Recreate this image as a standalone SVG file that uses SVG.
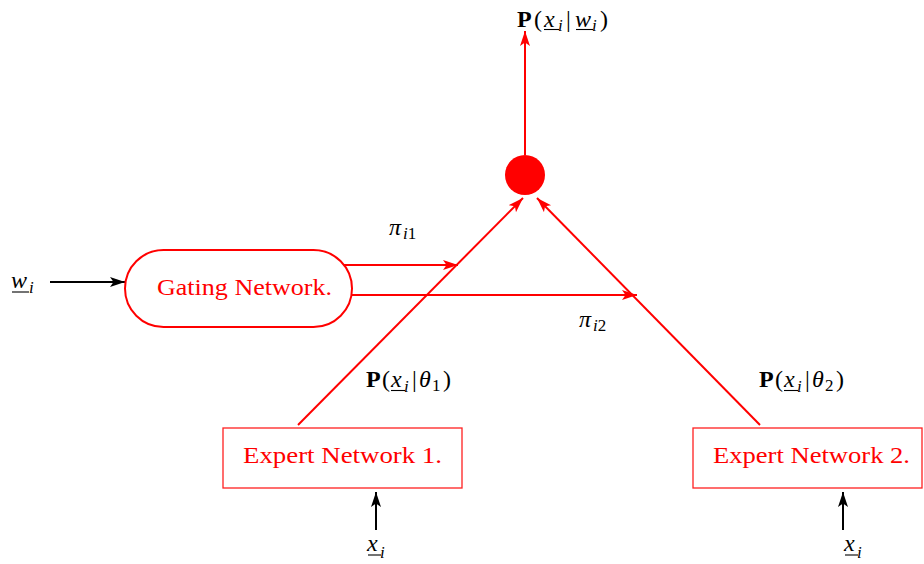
<svg xmlns="http://www.w3.org/2000/svg" width="924" height="564" viewBox="0 0 924 564">
<style>
  .red { stroke: #ff0000; stroke-width: 2; fill: none; }
  .blk { stroke: #000000; stroke-width: 2; fill: none; }
  .box { stroke: #ff2020; stroke-width: 1.3; fill: #ffffff; }
  .lbl { font-family: "Liberation Serif", "Times New Roman", serif; font-size: 24px; fill: #ff0000; }
  .m { font-family: "Liberation Serif", "Times New Roman", serif; font-size: 24px; fill: #000000; }
  .it { font-style: italic; }
  .bf { font-weight: bold; }
  .sub { font-size: 17px; }
  .ul { stroke: #000000; stroke-width: 1.1; }
</style>
<defs>
  <marker id="ar" markerUnits="userSpaceOnUse" markerWidth="16" markerHeight="12" refX="15" refY="5" orient="auto">
    <path d="M0,0 L15,5 L0,10 L3.5,5 Z" fill="#ff0000"/>
  </marker>
  <marker id="ab" markerUnits="userSpaceOnUse" markerWidth="16" markerHeight="12" refX="15" refY="5" orient="auto">
    <path d="M0,0 L15,5 L0,10 L3.5,5 Z" fill="#000000"/>
  </marker>
</defs>

<g id="connectors">
  <line class="red" x1="525" y1="155" x2="525" y2="31" marker-end="url(#ar)"/>
  <line class="red" x1="298" y1="425" x2="523" y2="198" marker-end="url(#ar)"/>
  <line class="red" x1="760" y1="425" x2="537" y2="198" marker-end="url(#ar)"/>
  <line class="red" x1="344" y1="265" x2="458" y2="265" marker-end="url(#ar)"/>
  <line class="red" x1="351" y1="295" x2="637" y2="295" marker-end="url(#ar)"/>
  <line class="blk" x1="50" y1="282" x2="125" y2="282" marker-end="url(#ab)"/>
  <line class="blk" x1="376" y1="530" x2="376" y2="492" marker-end="url(#ab)"/>
  <line class="blk" x1="843" y1="530" x2="843" y2="492" marker-end="url(#ab)"/>
</g>

<g id="combiner">
  <circle cx="525" cy="175" r="20" fill="#ff0000"/>
</g>

<g id="gating">
  <rect x="125" y="250" width="227" height="77" rx="38.5" ry="38.5" fill="#ffffff" stroke="#ff0000" stroke-width="2"/>
  <text class="lbl" x="157" y="295" textLength="175" lengthAdjust="spacingAndGlyphs">Gating Network.</text>
</g>

<g id="expert1">
  <rect class="box" x="223" y="428" width="239" height="60"/>
  <text class="lbl" x="243" y="463" textLength="199" lengthAdjust="spacingAndGlyphs">Expert Network 1.</text>
</g>

<g id="expert2">
  <rect class="box" x="693" y="428" width="229" height="60"/>
  <text class="lbl" x="713" y="463" textLength="197" lengthAdjust="spacingAndGlyphs">Expert Network 2.</text>
</g>

<g id="label-output">
  <text class="m" y="27"><tspan class="bf" x="517">P</tspan><tspan x="534">(</tspan><tspan class="it" x="544">x</tspan><tspan class="it sub" x="558" y="31">i</tspan><tspan x="566" y="27">|</tspan><tspan class="it" x="575">w</tspan><tspan class="it sub" x="592" y="31">i</tspan><tspan x="600" y="27">)</tspan></text>
  <line class="ul" x1="544" y1="29.5" x2="559" y2="29.5"/>
  <line class="ul" x1="576" y1="29.5" x2="593" y2="29.5"/>
</g>

<g id="label-w">
  <text class="m"><tspan class="it" x="11" y="288">w</tspan><tspan class="it sub" x="29" y="293">i</tspan></text>
  <line class="ul" x1="12" y1="292" x2="29" y2="292"/>
</g>

<g id="label-pi1">
  <text class="m"><tspan class="it" x="389" y="235">π</tspan><tspan class="sub" x="403" y="239"><tspan class="it">i</tspan>1</tspan></text>
</g>

<g id="label-pi2">
  <text class="m"><tspan class="it" x="579" y="327">π</tspan><tspan class="sub" x="593" y="331"><tspan class="it">i</tspan>2</tspan></text>
</g>

<g id="label-theta1">
  <text class="m" y="387"><tspan class="bf" x="366">P</tspan><tspan x="382">(</tspan><tspan class="it" x="391">x</tspan><tspan class="it sub" x="404" y="392">i</tspan><tspan x="412" y="387">|</tspan><tspan class="it" x="419">θ</tspan><tspan class="sub" x="432" y="391">1</tspan><tspan x="443" y="387">)</tspan></text>
  <line class="ul" x1="391" y1="390.5" x2="405" y2="390.5"/>
</g>

<g id="label-theta2">
  <text class="m" y="387"><tspan class="bf" x="759">P</tspan><tspan x="775">(</tspan><tspan class="it" x="784">x</tspan><tspan class="it sub" x="797" y="392">i</tspan><tspan x="805" y="387">|</tspan><tspan class="it" x="812">θ</tspan><tspan class="sub" x="825" y="391">2</tspan><tspan x="836" y="387">)</tspan></text>
  <line class="ul" x1="784" y1="390.5" x2="798" y2="390.5"/>
</g>

<g id="label-x1">
  <text class="m"><tspan class="it" x="367" y="551">x</tspan><tspan class="it sub" x="380" y="558">i</tspan></text>
  <line class="ul" x1="368" y1="555" x2="381" y2="555"/>
</g>

<g id="label-x2">
  <text class="m"><tspan class="it" x="844" y="551">x</tspan><tspan class="it sub" x="857" y="558">i</tspan></text>
  <line class="ul" x1="845" y1="555" x2="858" y2="555"/>
</g>
</svg>
